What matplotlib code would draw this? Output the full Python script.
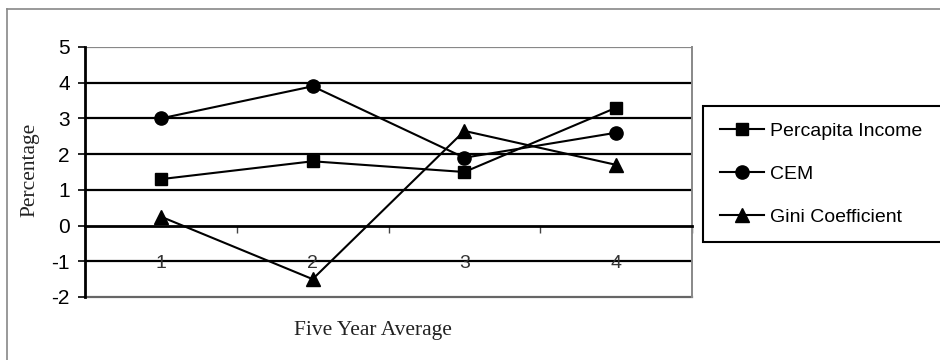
import matplotlib
matplotlib.use("Agg")
import matplotlib.pyplot as plt
from matplotlib.lines import Line2D

periods = [1, 2, 3, 4]
period_labels = ["1", "2", "3", "4"]
percapita_income = [1.3, 1.8, 1.5, 3.3]
cem = [3.0, 3.9, 1.9, 2.6]
gini = [0.25, -1.5, 2.65, 1.7]
y_ticks = [-2, -1, 0, 1, 2, 3, 4, 5]

sans = "Liberation Sans"
serif = "Liberation Serif"

fig = plt.figure(figsize=(9.4, 3.6), dpi=100)
fig.patch.set_facecolor("white")

# outer frame (partial)
fig.add_artist(Line2D([7/940, 7/940], [0, 1 - 9/360], color="#888888", lw=1.2, transform=fig.transFigure))
fig.add_artist(Line2D([7/940, 1], [1 - 9/360, 1 - 9/360], color="#888888", lw=1.2, transform=fig.transFigure))

ax = fig.add_axes([85/940, 1 - 297/360, (692 - 85)/940, (297 - 47)/360])
ax.set_xlim(0.5, 4.5)
ax.set_ylim(-2, 5)

for y in y_ticks:
    if y in (-2, 5, 0):
        continue
    ax.axhline(y, color="black", lw=1.6, zorder=1)
ax.axhline(5, color="#888888", lw=1.6, zorder=1)
ax.axhline(-2, color="#666666", lw=1.6, zorder=1, clip_on=False)

ax.spines["top"].set_visible(False)
ax.spines["right"].set_color("#888888")
ax.spines["right"].set_linewidth(1.4)
ax.spines["left"].set_color("black")
ax.spines["left"].set_linewidth(2.0)
ax.spines["bottom"].set_position(("data", 0))
ax.spines["bottom"].set_color("black")
ax.spines["bottom"].set_linewidth(2.0)

ax.set_yticks(y_ticks)
ax.set_yticklabels([str(v) for v in y_ticks], fontfamily=sans, fontsize=15)
ax.tick_params(axis="y", direction="out", length=5, width=1.2, pad=6, color="black")

ax.set_xticks(periods)
ax.set_xticklabels(period_labels, fontfamily=sans, fontsize=14, color="#333333")
ax.set_xticks([1.5, 2.5, 3.5, 4.5], minor=True)
ax.tick_params(axis="x", which="major", length=0, pad=21)
ax.tick_params(axis="x", which="minor", direction="out", length=5, width=1.0, color="#444444")

ms = 8.5
ax.plot(periods, percapita_income, color="black", lw=1.5, marker="s", ms=ms, zorder=3, label="Percapita Income")
ax.plot(periods, cem, color="black", lw=1.5, marker="o", ms=ms + 1, zorder=3, label="CEM")
ax.plot(periods, gini, color="black", lw=1.5, marker="^", ms=ms + 1, zorder=3, label="Gini Coefficient")

fig.text(30/940, 1 - 170/360, "Percentage", rotation=90, fontfamily=serif, fontsize=15.5,
         ha="center", va="center", color="#222222")
fig.text(373/940, 1 - 330/360, "Five Year Average", fontfamily=serif, fontsize=15.5,
         ha="center", va="center", color="#222222")

leg = fig.legend(loc="upper left", bbox_to_anchor=(703/940, 1 - 240/360, 260/940, 134/360),
                 mode="expand", fancybox=False,
                 edgecolor="black", framealpha=1, borderaxespad=0, borderpad=0.85,
                 labelspacing=1.3, handlelength=2.3, handletextpad=0.3,
                 prop={"family": sans, "size": 14})
leg.get_frame().set_linewidth(1.5)

fig.savefig("out.png", dpi=100)
